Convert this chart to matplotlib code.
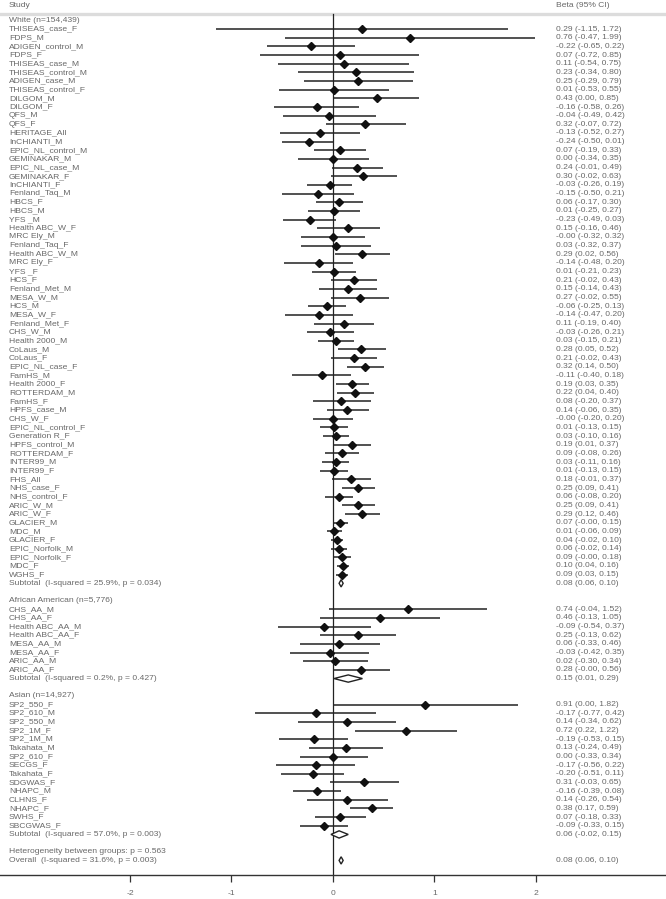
import matplotlib
matplotlib.use("Agg")
import matplotlib.pyplot as plt
from matplotlib.transforms import blended_transform_factory
from matplotlib.patches import Polygon

plt.rcParams['font.family'] = ['Liberation Sans', 'DejaVu Sans']

# ---------------- data ----------------
white_names = ["THISEAS_case_F", "FDPS_M", "ADIGEN_control_M", "FDPS_F", "THISEAS_case_M",
               "THISEAS_control_M", "ADIGEN_case_M", "THISEAS_control_F", "DILGOM_M", "DILGOM_F",
               "QFS_M", "QFS_F", "HERITAGE_All", "InCHIANTI_M", "EPIC_NL_control_M", "GEMINAKAR_M",
               "EPIC_NL_case_M", "GEMINAKAR_F", "InCHIANTI_F", "Fenland_Taq_M", "HBCS_F", "HBCS_M",
               "YFS _M", "Health ABC_W_F", "MRC Ely_M", "Fenland_Taq_F", "Health ABC_W_M", "MRC Ely_F",
               "YFS _F", "HCS_F", "Fenland_Met_M", "MESA_W_M", "HCS_M", "MESA_W_F", "Fenland_Met_F",
               "CHS_W_M", "Health 2000_M", "CoLaus_M", "CoLaus_F", "EPIC_NL_case_F", "FamHS_M",
               "Health 2000_F", "ROTTERDAM_M", "FamHS_F", "HPFS_case_M", "CHS_W_F", "EPIC_NL_control_F",
               "Generation R_F", "HPFS_control_M", "ROTTERDAM_F", "INTER99_M", "INTER99_F", "FHS_All",
               "NHS_case_F", "NHS_control_F", "ARIC_W_M", "ARIC_W_F", "GLACIER_M", "MDC_M", "GLACIER_F",
               "EPIC_Norfolk_M", "EPIC_Norfolk_F", "MDC_F", "WGHS_F"]
white_beta = [0.29, 0.76, -0.22, 0.07, 0.11, 0.23, 0.25, 0.01, 0.43, -0.16,
              -0.04, 0.32, -0.13, -0.24, 0.07, 0.00, 0.24, 0.30, -0.03, -0.15,
              0.06, 0.01, -0.23, 0.15, -0.0, 0.03, 0.29, -0.14, 0.01, 0.21,
              0.15, 0.27, -0.06, -0.14, 0.11, -0.03, 0.03, 0.28, 0.21, 0.32,
              -0.11, 0.19, 0.22, 0.08, 0.14, -0.0, 0.01, 0.03, 0.19, 0.09,
              0.03, 0.01, 0.18, 0.25, 0.06, 0.25, 0.29, 0.07, 0.01, 0.04,
              0.06, 0.09, 0.10, 0.09]
white_lo = [-1.15, -0.47, -0.65, -0.72, -0.54, -0.34, -0.29, -0.53, 0.00, -0.58,
            -0.49, -0.07, -0.52, -0.50, -0.19, -0.34, -0.01, -0.02, -0.26, -0.50,
            -0.17, -0.25, -0.49, -0.16, -0.32, -0.32, 0.02, -0.48, -0.21, -0.02,
            -0.14, -0.02, -0.25, -0.47, -0.19, -0.26, -0.15, 0.05, -0.02, 0.14,
            -0.40, 0.03, 0.04, -0.20, -0.06, -0.20, -0.13, -0.10, 0.01, -0.08,
            -0.11, -0.13, -0.01, 0.09, -0.08, 0.09, 0.12, -0.0, -0.06, -0.02,
            -0.02, -0.0, 0.04, 0.03]
white_hi = [1.72, 1.99, 0.22, 0.85, 0.75, 0.80, 0.79, 0.55, 0.85, 0.26,
            0.42, 0.72, 0.27, 0.01, 0.33, 0.35, 0.49, 0.63, 0.19, 0.21,
            0.30, 0.27, 0.03, 0.46, 0.32, 0.37, 0.56, 0.20, 0.23, 0.43,
            0.43, 0.55, 0.13, 0.20, 0.40, 0.21, 0.21, 0.52, 0.43, 0.50,
            0.18, 0.35, 0.40, 0.37, 0.35, 0.20, 0.15, 0.16, 0.37, 0.26,
            0.16, 0.15, 0.37, 0.41, 0.20, 0.41, 0.46, 0.15, 0.09, 0.10,
            0.14, 0.18, 0.16, 0.15]

aa_names = ["CHS_AA_M", "CHS_AA_F", "Health ABC_AA_M", "Health ABC_AA_F",
            "MESA_AA_M", "MESA_AA_F", "ARIC_AA_M", "ARIC_AA_F"]
aa_beta = [0.74, 0.46, -0.09, 0.25, 0.06, -0.03, 0.02, 0.28]
aa_lo = [-0.04, -0.13, -0.54, -0.13, -0.33, -0.42, -0.30, -0.0]
aa_hi = [1.52, 1.05, 0.37, 0.62, 0.46, 0.35, 0.34, 0.56]

as_names = ["SP2_550_F", "SP2_610_M", "SP2_550_M", "SP2_1M_F", "SP2_1M_M", "Takahata_M",
            "SP2_610_F", "SECGS_F", "Takahata_F", "SDGWAS_F", "NHAPC_M", "CLHNS_F",
            "NHAPC_F", "SWHS_F", "SBCGWAS_F"]
as_beta = [0.91, -0.17, 0.14, 0.72, -0.19, 0.13, 0.00, -0.17, -0.20, 0.31, -0.16, 0.14, 0.38, 0.07, -0.09]
as_lo = [0.00, -0.77, -0.34, 0.22, -0.53, -0.24, -0.33, -0.56, -0.51, -0.03, -0.39, -0.26, 0.17, -0.18, -0.33]
as_hi = [1.82, 0.42, 0.62, 1.22, 0.15, 0.49, 0.34, 0.22, 0.11, 0.65, 0.08, 0.54, 0.59, 0.33, 0.15]

group_titles = ["White (n=154,439)", "African American (n=5,776)", "Asian (n=14,927)"]
sub_labels = ["Subtotal  (I-squared = 25.9%, p = 0.034)",
              "Subtotal  (I-squared = 0.2%, p = 0.427)",
              "Subtotal  (I-squared = 57.0%, p = 0.003)"]
sub_beta = [0.08, 0.15, 0.06]
sub_lo = [0.06, 0.01, -0.02]
sub_hi = [0.10, 0.29, 0.15]

het_label = "Heterogeneity between groups: p = 0.563"
overall_label = "Overall  (I-squared = 31.6%, p = 0.003)"
overall_beta, overall_lo, overall_hi = 0.08, 0.06, 0.10

x_ticks = [-2, -1, 0, 1, 2]

# ---------------- build rows ----------------
groups = [(white_names, white_beta, white_lo, white_hi),
          (aa_names, aa_beta, aa_lo, aa_hi),
          (as_names, as_beta, as_lo, as_hi)]
rows = []  # (kind, label, beta, lo, hi)
for gi, (nm, b, lo, hi) in enumerate(groups):
    rows.append(("title", group_titles[gi], None, None, None))
    for n_, b_, l_, h_ in zip(nm, b, lo, hi):
        rows.append(("study", n_, b_, l_, h_))
    rows.append(("sub", sub_labels[gi], sub_beta[gi], sub_lo[gi], sub_hi[gi]))
    rows.append(("blank", "", None, None, None))
rows.append(("title", het_label, None, None, None))
rows.append(("sub", overall_label, overall_beta, overall_lo, overall_hi))

# ---------------- figure ----------------
W, H = 666, 899
fig = plt.figure(figsize=(W / 100, H / 100), dpi=100)
axis_px = 875.0
row0_px = 20.4
pitch = 8.66
ax = fig.add_axes([0, (H - axis_px) / H, 1, axis_px / H])
ax.set_xlim(-333 / 101.5, (W - 333) / 101.5)
ax.set_ylim((axis_px - row0_px) / pitch, -row0_px / pitch)

tr = blended_transform_factory(ax.transAxes, ax.transData)
txt_color = '#686868'
fs = 6.1
lab_x = 9 / W
val_x = 556 / W

header_y = (5.5 - row0_px) / pitch
line_y = (14 - row0_px) / pitch
ax.text(lab_x, header_y, "Study", transform=tr, ha='left', va='center', fontsize=fs, color=txt_color)
ax.text(val_x, header_y, "Beta (95% CI)", transform=tr, ha='left', va='center', fontsize=fs, color=txt_color)
ax.axhline(line_y, color='#dcdcdc', lw=2.4, zorder=1)
ax.plot([0, 0], [line_y, (axis_px - row0_px) / pitch], color='#222222', lw=0.9, zorder=2)

def fmt(v):
    return f"{v:.2f}"

for i, (kind, label, b, lo, hi) in enumerate(rows):
    if kind == "blank":
        continue
    ax.text(lab_x, i, label, transform=tr, ha='left', va='center', fontsize=fs, color=txt_color)
    if kind == "study":
        ax.plot([lo, hi], [i, i], color='#222222', lw=1.1, solid_capstyle='butt', zorder=3)
        ax.plot([b], [i], marker='D', ms=3.8, color='#111111', zorder=4)
    if kind in ("study", "sub"):
        ax.text(val_x, i, f"{fmt(b)} ({fmt(lo)}, {fmt(hi)})", transform=tr,
                ha='left', va='center', fontsize=fs, color=txt_color)
    if kind == "sub":
        hh = 0.42
        poly = Polygon([[lo, i], [b, i - hh], [hi, i], [b, i + hh]], closed=True,
                       facecolor='white', edgecolor='#222222', lw=1.0, zorder=4)
        ax.add_patch(poly)

for s in ['left', 'right', 'top']:
    ax.spines[s].set_visible(False)
ax.spines['bottom'].set_color('#333333')
ax.spines['bottom'].set_linewidth(1.0)
ax.set_yticks([])
ax.set_xticks(x_ticks)
ax.set_xticklabels([str(t) for t in x_ticks])
ax.tick_params(axis='x', direction='out', length=5, width=0.9, color='#333333',
               labelsize=fs, labelcolor=txt_color, pad=6)

fig.savefig("out.png", dpi=100)
